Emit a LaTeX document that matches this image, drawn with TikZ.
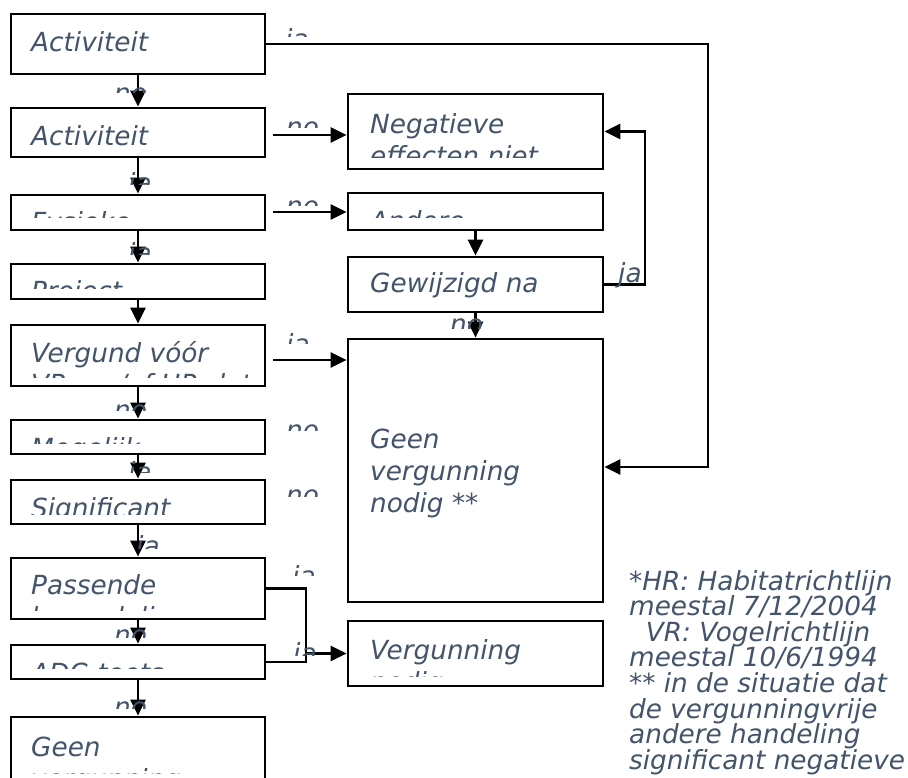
\documentclass[tikz,border=0pt]{standalone}
\usepackage{fontspec}
\setmainfont{DejaVu Sans}[ItalicFont={DejaVu Sans Oblique}]
\usetikzlibrary{arrows.meta,calc}
\definecolor{txtc}{RGB}{68,84,106}
\tikzset{
  box/.style={draw=black, line width=2.7pt, minimum width=254pt, inner sep=0pt},
  conn/.style={draw=black, line width=2.7pt},
  arr/.style={conn, -{Triangle[length=16pt,width=15pt]}},
  txt/.style={anchor=base west, inner sep=0pt, text=txtc, font=\fontsize{26.3pt}{32pt}\selectfont\itshape},
}
\newcommand\cliptxt[6]{% name, x, baseline, clip right, clip bottom, text
  \begin{scope}\clip (#2-10,#3-45) rectangle (#4,#5);
  \node[txt] (#1) at (#2,#3) {#6};\end{scope}}
\begin{document}
\begin{tikzpicture}[x=1pt,y=-1pt]
\useasboundingbox (0,0) rectangle (908,778);
\fill[white] (0,0) rectangle (908,778);
% left column
\node[box, minimum height=60pt] (L1) at (138,44) {};
\node[box, minimum height=49pt] (L2) at (138,132.5) {};
\node[box, minimum height=35pt] (L3) at (138,212.5) {};
\node[box, minimum height=35pt] (L4) at (138,281.5) {};
\node[box, minimum height=61pt] (L5) at (138,355.5) {};
\node[box, minimum height=34pt] (L6) at (138,437) {};
\node[box, minimum height=44pt] (L7) at (138,502) {};
\node[box, minimum height=61pt] (L8) at (138,588.5) {};
\node[box, minimum height=34pt] (L9) at (138,662) {};
\node[box, minimum height=123pt] (L10) at (138,778.5) {};
% right column
\node[box, minimum width=255pt, minimum height=75pt] (R1) at (475.5,131.5) {};
\node[box, minimum width=255pt, minimum height=37pt] (R2) at (475.5,211.5) {};
\node[box, minimum width=255pt, minimum height=55pt] (R3) at (475.5,284.5) {};
\node[box, minimum width=255pt, minimum height=263pt] (R4) at (475.5,470.5) {};
\node[box, minimum width=255pt, minimum height=65pt] (R5) at (475.5,653.5) {};
% box texts
\cliptxt{t1}{31}{52}{262}{72}{Activiteit}
\cliptxt{t2}{31}{146}{262}{154}{Activiteit}
\cliptxt{t3}{31}{232}{262}{218}{Fysieke}
\cliptxt{t4}{31}{301}{262}{289}{Project}
\cliptxt{t5a}{31}{362}{262}{377}{Vergund vóór}
\cliptxt{t5b}{31}{393}{262}{377}{VR- en/of HR-datum*}
\cliptxt{t6}{31}{457}{262}{443}{Mogelijk}
\cliptxt{t7}{31}{517}{262}{514}{Significant}
\cliptxt{t8a}{31}{594}{262}{610}{Passende}
\cliptxt{t8b}{31}{626}{262}{610}{beoordeling}
\cliptxt{t9}{31}{682}{262}{668}{ADC-toets}
\cliptxt{t10a}{31}{756}{262}{773}{Geen}
\cliptxt{t10b}{31}{788}{262}{773}{vergunning}
\cliptxt{r1a}{370}{134}{600}{158}{Negatieve}
\cliptxt{r1b}{370}{166}{600}{158}{effecten niet}
\cliptxt{r2}{370}{231}{600}{218}{Andere}
\cliptxt{r3}{370}{292}{600}{302}{Gewijzigd na}
\node[txt] (r4a) at (370,448) {Geen};
\node[txt] (r4b) at (370,480) {vergunning};
\node[txt] (r4c) at (370,512) {nodig **};
\cliptxt{r5a}{370}{659}{600}{676}{Vergunning}
\cliptxt{r5b}{370}{691}{600}{676}{nodig}
% vertical arrows
\draw[arr] (L1.south) -- (L2.north);
\draw[arr] (L2.south) -- (L3.north);
\draw[arr] (L3.south) -- (L4.north);
\draw[arr] (L4.south) -- (L5.north);
\draw[arr] (L5.south) -- (L6.north);
\draw[arr] (L6.south) -- (L7.north);
\draw[arr] (L7.south) -- (L8.north);
\draw[arr] (L8.south) -- (L9.north);
\draw[arr] (L9.south) -- (L10.north);
\draw[arr] (R2.south) -- (R3.north);
\draw[arr] (R3.south) -- (R4.north);
% horizontal arrows
\coordinate (h2) at (273,135);
\coordinate (h3) at (273,212);
\coordinate (h5) at (273,360);
\draw[arr] (h2) -- (h2 -| R1.west);
\draw[arr] (h3) -- (h3 -| R2.west);
\draw[arr] (h5) -- (h5 -| R4.west);
% top loop
\coordinate (tr) at (708,0);
\coordinate (ty) at (0,467);
\draw[arr] (L1.east) -- (L1.east -| tr) -- (tr |- ty) -- (ty -| R4.east);
% right loop
\coordinate (lp) at (645,0);
\draw[arr] (R3.east) -- (R3.east -| lp) -- (R1.east -| lp) -- (R1.east);
% bracket Passende / ADC
\coordinate (br) at (306,0);
\draw[conn] (L8.east) -- (L8.east -| br) -- (L9.east -| br) -- (L9.east);
\draw[arr] (R5.west -| br) -- (R5.west);
% labels
\cliptxt{la1}{285}{49}{340}{37}{ja}
\cliptxt{la2}{114}{103}{170}{93}{no}
\cliptxt{la3}{286}{137}{340}{128}{no}
\cliptxt{la4}{128}{193}{170}{185}{ja}
\cliptxt{la5}{286}{216}{340}{206}{no}
\cliptxt{la6}{128}{263}{170}{255}{ja}
\cliptxt{la7}{286}{353}{340}{343}{ja}
\cliptxt{la8}{114}{419}{170}{410}{no}
\cliptxt{la9}{286}{439}{340}{430}{no}
\cliptxt{la10}{128}{481}{170}{472}{ja}
\cliptxt{la11}{286}{504}{340}{496}{no}
\cliptxt{la12}{136}{555}{180}{548}{ja}
\cliptxt{la13}{292}{585}{340}{575}{ja}
\cliptxt{la14}{114}{644}{170}{637}{no}
\cliptxt{la15}{293}{662}{340}{655}{ja}
\cliptxt{la16}{114}{716}{170}{708}{no}
\node[txt] (la17) at (618,283) {ja};
\cliptxt{la18}{450}{334}{500}{328}{no}
% footnote
\node[txt] (f1) at (629,590) {*HR: Habitatrichtlijn};
\node[txt] (f2) at (629,615.6) {meestal 7/12/2004};
\node[txt] (f3) at (629,641.2) {\ \ VR: Vogelrichtlijn};
\node[txt] (f4) at (629,666.8) {meestal 10/6/1994};
\node[txt] (f5) at (629,692.4) {** in de situatie dat};
\node[txt] (f6) at (629,718) {de vergunningvrije};
\node[txt] (f7) at (629,743.6) {andere handeling};
\node[txt] (f8) at (629,769.2) {significant negatieve};
\end{tikzpicture}
\end{document}
